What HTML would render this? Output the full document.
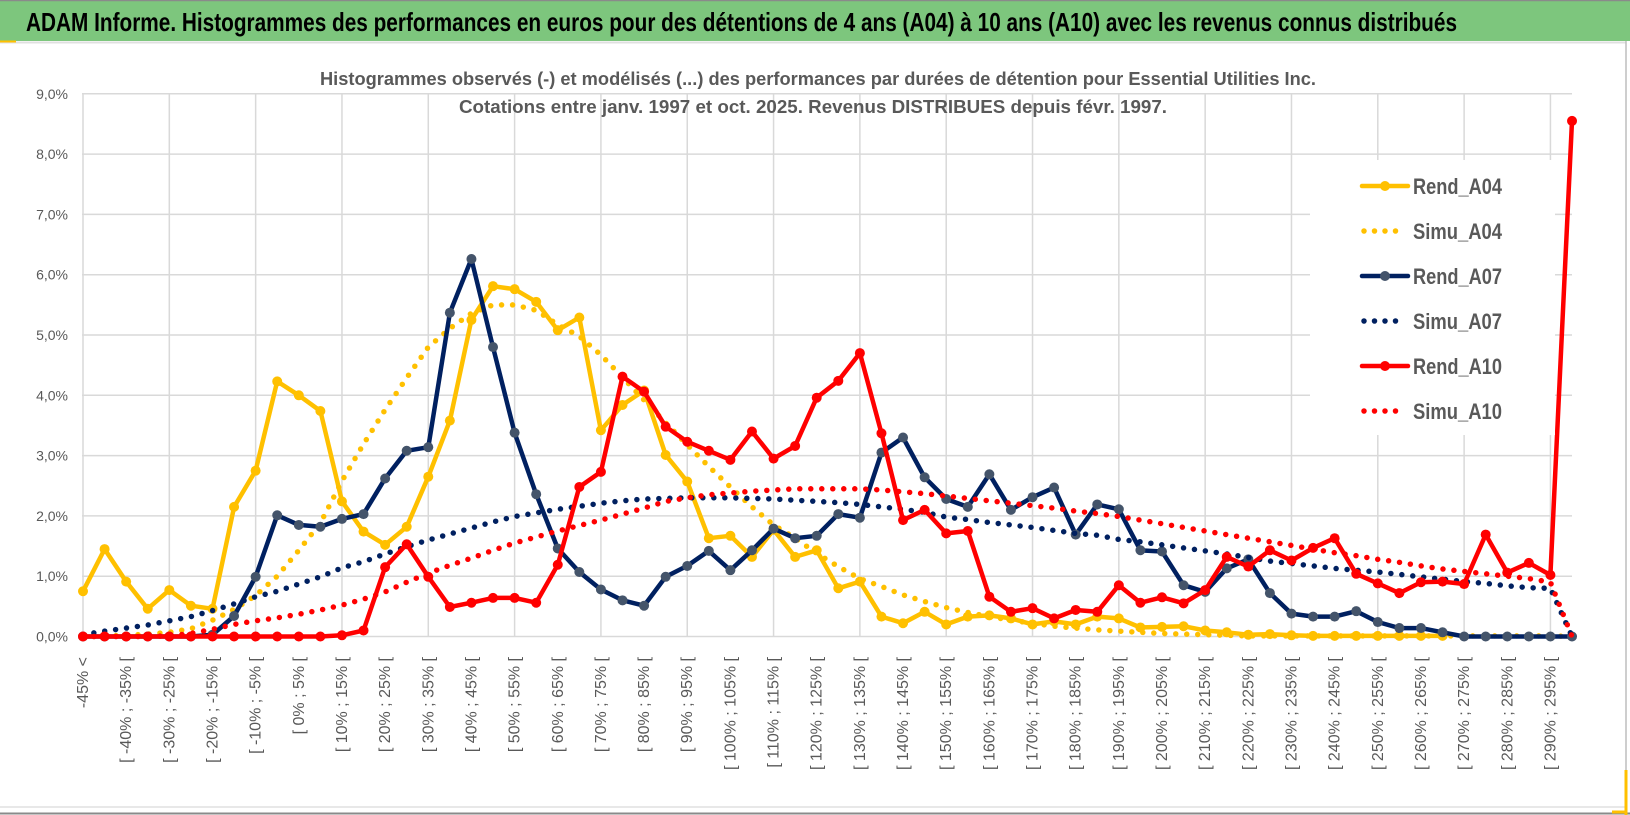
<!DOCTYPE html>
<html><head><meta charset="utf-8"><style>
html,body{margin:0;padding:0;background:#fff;}
svg{display:block;font-family:"Liberation Sans",sans-serif;}
</style></head><body>
<svg id="chart" width="1630" height="815" viewBox="0 0 1630 815" xmlns="http://www.w3.org/2000/svg">
<rect x="0" y="0" width="1630" height="815" fill="#ffffff"/>
<rect x="0" y="0" width="1630" height="41" fill="#7dc67d"/>
<line x1="0" y1="0.5" x2="1630" y2="0.5" stroke="#8a8a8a" stroke-width="1.5"/>
<line x1="0" y1="42.5" x2="1626" y2="42.5" stroke="#e0e0e0" stroke-width="2"/>
<line x1="0" y1="41.5" x2="16" y2="41.5" stroke="#ffc000" stroke-width="2"/>
<line x1="1626" y1="41" x2="1626" y2="813" stroke="#bdbdbd" stroke-width="1.5"/>
<line x1="0" y1="807" x2="1626" y2="807" stroke="#e0e0e0" stroke-width="1.5"/>
<line x1="0" y1="813.5" x2="1630" y2="813.5" stroke="#8a8a8a" stroke-width="2"/>
<line x1="1626" y1="770" x2="1626" y2="815" stroke="#ffc000" stroke-width="3"/>
<line x1="1612" y1="812" x2="1627" y2="812" stroke="#ffc000" stroke-width="3"/>
<text x="26" y="31" font-size="26" font-weight="bold" fill="#000" textLength="1431" lengthAdjust="spacingAndGlyphs">ADAM Informe. Histogrammes des performances en euros pour des détentions de 4 ans (A04) à 10 ans (A10) avec les revenus connus distribués</text>
<g id="grid"></g>
<g id="axes"></g>
<g id="series"></g>
<rect x="1310" y="160" width="245" height="275" fill="#ffffff"/>
<g id="legend"></g>
<text x="818" y="85" font-size="18" font-weight="bold" fill="#595959" text-anchor="middle" textLength="996" lengthAdjust="spacingAndGlyphs">Histogrammes observés (-) et modélisés (...) des performances par durées de détention pour Essential Utilities Inc.</text>
<text x="813" y="113" font-size="18" font-weight="bold" fill="#595959" text-anchor="middle" textLength="708" lengthAdjust="spacingAndGlyphs">Cotations entre janv. 1997 et oct. 2025. Revenus DISTRIBUES depuis févr. 1997.</text>
</svg>
<script>
const rendA04 = [0.75,1.45,0.91,0.46,0.77,0.51,0.46,2.15,2.75,4.23,4.0,3.74,2.24,1.74,1.52,1.82,2.65,3.58,5.25,5.81,5.76,5.55,5.08,5.29,3.42,3.84,4.08,3.01,2.57,1.63,1.67,1.32,1.77,1.32,1.43,0.8,0.91,0.33,0.22,0.41,0.2,0.33,0.35,0.3,0.2,0.25,0.2,0.33,0.3,0.15,0.16,0.17,0.1,0.07,0.03,0.04,0.02,0.01,0.01,0.01,0.01,0.01,0.01,0.01,null,null,null,null,null,null];
const simuA04 = [0.01,0.01,0.02,0.04,0.07,0.13,0.27,0.45,0.68,1.0,1.43,1.88,2.58,3.19,3.76,4.29,4.8,5.11,5.36,5.5,5.5,5.41,5.17,4.98,4.67,4.3,3.92,3.54,3.18,2.82,2.48,2.15,1.85,1.63,1.38,1.16,0.96,0.83,0.69,0.58,0.48,0.4,0.33,0.27,0.22,0.17,0.14,0.11,0.09,0.07,0.05,0.04,0.03,0.02,0.01,0.01,0.01,0.01,0.01,0.01,0.01,0.01,0.01,0.01,0.01,0.01,0.01,0.01,0.01,0];
const rendA07 = [0,0,0,0,0,0,0.03,0.34,0.99,2.01,1.85,1.82,1.95,2.03,2.62,3.08,3.14,5.37,6.26,4.8,3.38,2.36,1.46,1.07,0.78,0.6,0.51,0.99,1.17,1.42,1.1,1.43,1.79,1.63,1.67,2.03,1.97,3.05,3.3,2.64,2.28,2.15,2.69,2.1,2.31,2.47,1.69,2.19,2.11,1.43,1.41,0.85,0.74,1.13,1.28,0.72,0.38,0.33,0.33,0.42,0.24,0.14,0.14,0.07,0,0,0,0,0,0];
const simuA07 = [0.03,0.09,0.14,0.19,0.26,0.33,0.43,0.54,0.66,0.75,0.87,0.99,1.14,1.24,1.37,1.49,1.6,1.7,1.8,1.9,1.99,2.05,2.11,2.16,2.21,2.25,2.28,2.29,2.3,2.3,2.3,2.29,2.28,2.26,2.24,2.22,2.19,2.15,2.11,2.06,1.98,1.94,1.89,1.85,1.81,1.76,1.71,1.68,1.61,1.57,1.52,1.47,1.42,1.37,1.31,1.25,1.21,1.17,1.13,1.1,1.07,1.03,0.99,0.95,0.91,0.88,0.84,0.81,0.8,0];
const rendA10 = [0,0,0,0,0,0,0,0,0,0,0,0,0.02,0.1,1.15,1.53,0.99,0.49,0.56,0.64,0.64,0.56,1.19,2.48,2.73,4.31,4.06,3.48,3.23,3.08,2.93,3.4,2.95,3.16,3.96,4.24,4.7,3.37,1.93,2.1,1.71,1.75,0.66,0.41,0.47,0.3,0.44,0.41,0.85,0.56,0.65,0.55,0.77,1.32,1.16,1.43,1.26,1.47,1.63,1.04,0.88,0.72,0.9,0.91,0.87,1.69,1.06,1.22,1.02,8.55];
const simuA10 = [0,0,0,0,0.01,0.05,0.12,0.2,0.26,0.31,0.37,0.44,0.52,0.62,0.74,0.9,1.05,1.18,1.3,1.43,1.55,1.65,1.75,1.84,1.93,2.03,2.13,2.24,2.3,2.35,2.38,2.41,2.43,2.45,2.45,2.45,2.45,2.43,2.4,2.37,2.33,2.29,2.25,2.21,2.17,2.13,2.08,2.04,1.99,1.93,1.87,1.81,1.75,1.69,1.63,1.57,1.51,1.45,1.39,1.34,1.28,1.23,1.17,1.12,1.08,1.04,1.0,0.96,0.9,0];
const yTicks = [0,1,2,3,4,5,6,7,8,9];
const yTickLabels = ["0,0%","1,0%","2,0%","3,0%","4,0%","5,0%","6,0%","7,0%","8,0%","9,0%"];
const categories = ["-45% <"];
for (let k = -45; k < 300; k += 5) { categories.push("[ " + k + "% ; " + (k + 5) + "% ["); }

const NS = "http://www.w3.org/2000/svg";
const X0 = 83, DX = 21.58, Y0 = 636.5, DY = 60.3, XR = 1572;
const xs = i => X0 + i * DX;
const ys = v => Y0 - v * DY;
function mk(tag, attrs, parent) {
  const e = document.createElementNS(NS, tag);
  for (const k in attrs) e.setAttribute(k, attrs[k]);
  parent.appendChild(e);
  return e;
}
const grid = document.getElementById('grid');
const axes = document.getElementById('axes');
const series = document.getElementById('series');
const legend = document.getElementById('legend');

yTicks.forEach((t, i) => {
  const l = mk('line', {x1: X0 - 1, x2: XR, y1: ys(t), y2: ys(t), stroke: '#d9d9d9', 'stroke-width': 1.5}, grid);
  
  
  const tx = mk('text', {x: 68, y: ys(t) + 5, 'font-size': 14, fill: '#595959', 'text-anchor': 'end'}, axes);
  tx.textContent = yTickLabels[i];
  
  
});
for (let i = 0; i < categories.length; i += 4) {
  const l = mk('line', {x1: xs(i), x2: xs(i), y1: ys(9), y2: Y0, stroke: '#d9d9d9', 'stroke-width': 1.5}, grid);
  
  
}
for (let i = 0; i < categories.length; i += 2) {
  const x = xs(i) + 5, y = 657;
  const tx = mk('text', {x: x, y: y, 'font-size': 16, fill: '#595959', 'text-anchor': 'end', transform: 'rotate(-90 ' + x + ' ' + y + ')'}, axes);
  tx.textContent = categories[i];
  
  
}

function drawSeries(vals, color, dotted, markerFill, name) {
  const g = mk('g', {}, series);
  
  
  let d = '', pen = false;
  vals.forEach((v, i) => {
    if (v === null) { pen = false; return; }
    d += (pen ? 'L' : 'M') + xs(i).toFixed(1) + ' ' + ys(v).toFixed(1) + ' ';
    pen = true;
  });
  const p = mk('path', {d: d, fill: 'none', stroke: color, 'stroke-width': dotted ? 5.5 : 4.5, 'stroke-linejoin': 'round', 'stroke-linecap': 'round'}, g);
  if (dotted) p.setAttribute('stroke-dasharray', '0 11');
  
  
  if (!dotted) {
    vals.forEach((v, i) => {
      if (v === null) return;
      const c = mk('circle', {cx: xs(i), cy: ys(v), r: 5, fill: markerFill}, g);
      
      
    });
  }
}
drawSeries(rendA04, '#ffc000', false, '#ffc000', 'rend-a04');
drawSeries(simuA04, '#ffc000', true, null, 'simu-a04');
drawSeries(rendA07, '#002060', false, '#44546a', 'rend-a07');
drawSeries(simuA07, '#002060', true, null, 'simu-a07');
drawSeries(rendA10, '#ff0000', false, '#ff0000', 'rend-a10');
drawSeries(simuA10, '#ff0000', true, null, 'simu-a10');

const legNames = ['Rend_A04','Simu_A04','Rend_A07','Simu_A07','Rend_A10','Simu_A10'];
const legColors = ['#ffc000','#ffc000','#002060','#002060','#ff0000','#ff0000'];
const legMarkers = ['#ffc000',null,'#44546a',null,'#ff0000',null];
legNames.forEach((n, k) => {
  const y = 186 + k * 45;
  const g = mk('g', {}, legend);
  
  
  const dotted = legMarkers[k] === null;
  const l = mk('line', {x1: dotted ? 1364 : 1362, x2: dotted ? 1406 : 1408, y1: y, y2: y, stroke: legColors[k], 'stroke-width': dotted ? 5.5 : 4.5, 'stroke-linecap': 'round'}, g);
  if (dotted) l.setAttribute('stroke-dasharray', '0 10.5');
  
  
  if (!dotted) {
    const c = mk('circle', {cx: 1385, cy: y, r: 5, fill: legMarkers[k]}, g);
    
    
  }
  const t = mk('text', {x: 1413, y: y + 8, 'font-size': 22, 'font-weight': 'bold', fill: '#595959', textLength: 89, lengthAdjust: 'spacingAndGlyphs'}, g);
  t.textContent = n;
  
  
});
</script>
</body></html>
